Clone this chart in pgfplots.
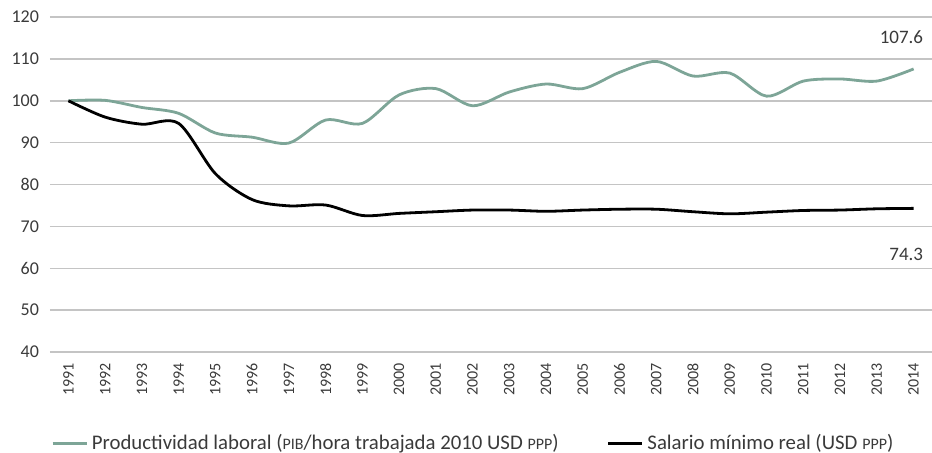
\documentclass[border=0pt]{standalone}
\usepackage{fontspec}
\setmainfont{Carlito}
\usepackage{pgfplots}
\pgfplotsset{compat=1.18}
\definecolor{prodgreen}{HTML}{7DA597}
\definecolor{gridgray}{HTML}{C4C4C4}
\definecolor{txt}{HTML}{3A3A3A}
\newcommand{\fsc}[1]{{\fontsize{8}{9}\selectfont #1}}
\begin{document}
\begin{tikzpicture}
\useasboundingbox (0,0) rectangle (466pt,226pt);
\begin{axis}[
  at={(25pt,50pt)}, anchor=south west,
  scale only axis,
  width=441pt, height=167.5pt,
  xmin=1990.5, xmax=2014.5,
  ymin=40, ymax=120,
  ytick={40,50,...,120},
  xtick={1991,...,2014},
  xticklabel style={rotate=90, anchor=east, font=\fontsize{8}{9}\selectfont, text=txt},
  yticklabel style={font=\fontsize{9}{10}\selectfont, text=txt},
  /pgf/number format/assume math mode=true,
  /pgf/number format/1000 sep={},
  ymajorgrids, grid style={gridgray, line width=0.75pt},
  axis line style={draw=none},
  major tick length=0pt,
  xticklabel shift=2pt,
  yticklabel shift=2pt,
  clip=false,
  legend style={at={(0.481,-0.272)}, anchor=center, draw=none, fill=none,
    font=\fontsize{10.4}{12}\selectfont, text=txt, legend columns=2,
    /tikz/every even column/.append style={column sep=22pt}},
  legend image code/.code={\draw[#1] (0pt,0pt) -- (17pt,0pt);},
]
\addplot[prodgreen, line width=1.4pt, smooth] coordinates {
(1991,100) (1992,100.1) (1993,98.4) (1994,97.0) (1995,92.3) (1996,91.3)
(1997,89.9) (1998,95.4) (1999,94.6) (2000,101.4) (2001,102.9) (2002,98.8)
(2003,102.1) (2004,104.0) (2005,102.9) (2006,106.8) (2007,109.4) (2008,105.9)
(2009,106.6) (2010,101.1) (2011,104.7) (2012,105.2) (2013,104.7) (2014,107.6)};
\addlegendentry{Productividad laboral (\fsc{PIB}/hora trabajada 2010 USD \fsc{PPP})}
\addplot[black, line width=1.4pt, smooth] coordinates {
(1991,100) (1992,96.1) (1993,94.4) (1994,94.6) (1995,82.6) (1996,76.4)
(1997,74.9) (1998,75.1) (1999,72.6) (2000,73.1) (2001,73.5) (2002,73.9)
(2003,73.9) (2004,73.6) (2005,73.9) (2006,74.1) (2007,74.1) (2008,73.5)
(2009,73.0) (2010,73.4) (2011,73.8) (2012,73.9) (2013,74.2) (2014,74.3)};
\addlegendentry{Salario mínimo real (USD \fsc{PPP})}
\node[anchor=east, text=txt, font=\fontsize{9.5}{11}\selectfont] at (axis cs:2014.45,115.2) {107.6};
\node[anchor=east, text=txt, font=\fontsize{9.5}{11}\selectfont] at (axis cs:2014.45,63.4) {74.3};
\end{axis}
\end{tikzpicture}
\end{document}
